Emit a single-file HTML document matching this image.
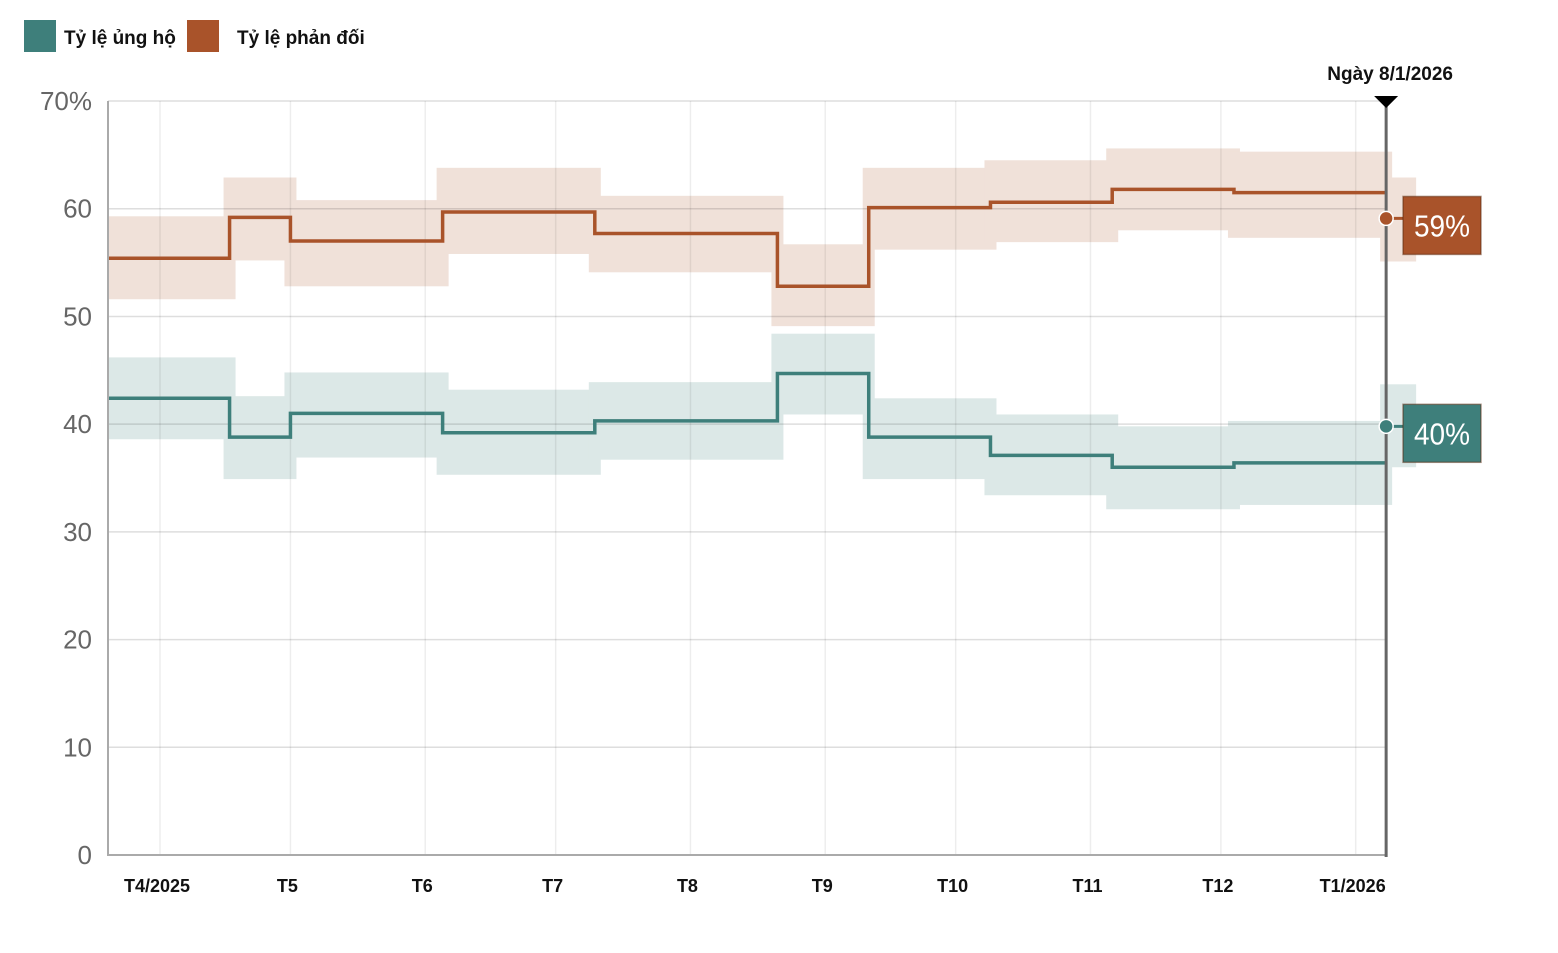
<!DOCTYPE html>
<html><head><meta charset="utf-8"><style>
body{margin:0;background:#fff;width:1558px;height:948px;overflow:hidden;font-family:"Liberation Sans",sans-serif}
</style></head><body>
<svg id="chart" width="1558" height="948" xmlns="http://www.w3.org/2000/svg" font-family="Liberation Sans, sans-serif">
<g>
<rect x="24" y="20" width="32" height="32" fill="#3e7f7b"/>
<text x="64" y="44" font-size="19" font-weight="bold" fill="#111">Tỷ lệ ủng hộ</text>
<rect x="187" y="20" width="32" height="32" fill="#a9532a"/>
<text x="237" y="44" font-size="19" font-weight="bold" fill="#111">Tỷ lệ phản đối</text>
</g>
<g id="bands"></g>
<g id="grid"></g>
<g id="lines"></g>
<g id="axes"></g>
<g id="marker"></g>
</svg>
<script>
const NS="http://www.w3.org/2000/svg";
// days relative to Apr 1 2025
const segStarts=[-12,16,30,65,100,142,163,191,219,247];
const endDay=282;
const supportVals=[42.4,38.8,41.0,39.2,40.3,44.7,38.8,37.1,36.0,36.4];
const supportLow=[38.6,34.9,36.9,35.3,36.7,40.9,34.9,33.4,32.1,32.5];
const supportHigh=[46.2,42.6,44.8,43.2,43.9,48.4,42.4,40.9,39.8,40.3];
const opposeVals=[55.4,59.2,57.0,59.7,57.7,52.8,60.1,60.6,61.8,61.5];
const opposeLow=[51.6,55.2,52.8,55.8,54.1,49.1,56.2,56.9,58.0,57.3];
const opposeHigh=[59.3,62.9,60.8,63.8,61.2,56.7,63.8,64.5,65.6,65.3];
const finalSupport=[39.8,36.0,43.7];
const finalOppose=[59.1,55.1,62.9];
const monthDays=[0,30,61,91,122,153,183,214,244,275];
const monthLabels=["T4/2025","T5","T6","T7","T8","T9","T10","T11","T12","T1/2026"];
const yTicks=[0,10,20,30,40,50,60,70];
const X=d=>160+d*4.348;
const Y=v=>855-v*10.771;
function el(parent,tag,attrs){const e=document.createElementNS(NS,tag);for(const k in attrs)e.setAttribute(k,attrs[k]);document.getElementById(parent).appendChild(e);return e;}
yTicks.forEach(t=>{
  const l=el('grid','line',{x1:108,x2:1385,y1:Y(t),y2:Y(t),stroke:'#000','stroke-opacity':0.13,'stroke-width':1.5});
  
  
  const tx=el('axes','text',{x:92,y:Y(t)+9,'text-anchor':'end','font-size':26,fill:'#666'});
  tx.textContent=t===70?'70%':String(t);
  
  
});
monthDays.forEach((d,i)=>{
  const l=el('grid','line',{x1:X(d),x2:X(d),y1:101,y2:855,stroke:'#000','stroke-opacity':0.07,'stroke-width':1.5});
  
  
  const tx=el('axes','text',{x:X(d)-3,y:892,'text-anchor':'middle','font-size':18,'font-weight':'bold',fill:'#111'});
  tx.textContent=monthLabels[i];
  
  
});
const ax=el('axes','path',{d:'M108,101V855H1385',fill:'none',stroke:'#aaa','stroke-width':2});


function series(vals,lo,hi,fin,color,band,name){
  vals.forEach((v,i)=>{
    const x0=X(segStarts[i])-(i===0?0:6), x1=X(i+1<segStarts.length?segStarts[i+1]:endDay)+6;
    const r=el('bands','rect',{x:x0,y:Y(hi[i]),width:x1-x0,height:Y(lo[i])-Y(hi[i]),fill:band});
    
    
  });
  const rf=el('bands','rect',{x:X(endDay)-6,y:Y(fin[2]),width:36,height:Y(fin[1])-Y(fin[2]),fill:band});
  
  
  let d='';
  vals.forEach((v,i)=>{
    const xs=X(segStarts[i]), xe=X(i+1<segStarts.length?segStarts[i+1]:endDay);
    d+=(i===0?'M':'L')+xs+','+Y(v)+'L'+xe+','+Y(v);
  });
  const p=el('lines','path',{d:d,fill:'none',stroke:color,'stroke-width':3.5});
  
  
}
series(supportVals,supportLow,supportHigh,finalSupport,'#3e7f7b','#dce8e7','support');
series(opposeVals,opposeLow,opposeHigh,finalOppose,'#a9532a','#f0e1d9','oppose');
const xm=X(endDay);
const ml=el('marker','line',{x1:xm,x2:xm,y1:101,y2:857,stroke:'#666','stroke-width':3});


const tri=el('marker','path',{d:`M${xm-12},96L${xm+12},96L${xm},108Z`,fill:'#000'});


const mt=el('marker','text',{x:xm+4,y:80,'text-anchor':'middle','font-size':19,'font-weight':'bold',fill:'#111'});
mt.textContent='Ngày 8/1/2026';


[[finalOppose[0],'#a9532a','59%','oppose'],[finalSupport[0],'#3e7f7b','40%','support']].forEach(a=>{
  const y=Y(a[0]);
  const cl=el('marker','line',{x1:xm,x2:1404,y1:y,y2:y,stroke:a[1],'stroke-width':3});
  
  
  const c=el('marker','circle',{cx:xm,cy:y,r:7,fill:a[1],stroke:'#fff','stroke-width':1.5});
  
  
  const b=el('marker','rect',{x:1403,y:y-22,width:78,height:58,fill:a[1],stroke:'#5a2a10','stroke-opacity':0.5,'stroke-width':1.5});
  
  
  const t=el('marker','text',{x:1442,y:y+18,'text-anchor':'middle','font-size':31,fill:'#fff',textLength:56,lengthAdjust:'spacingAndGlyphs'});
  t.textContent=a[2];
  
  
});
</script>
</body></html>
